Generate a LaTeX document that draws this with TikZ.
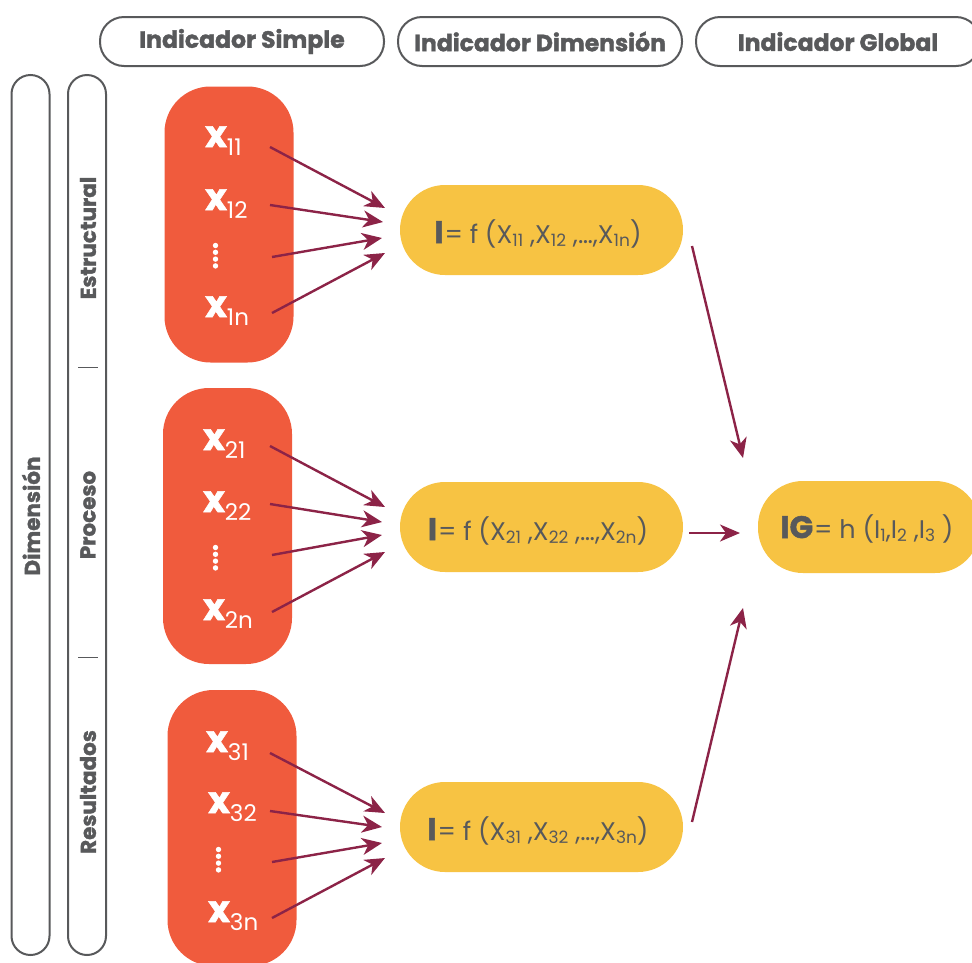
\documentclass[tikz,border=0pt]{standalone}
\usepackage{fontspec}
\setmainfont{Poppins}[BoldFeatures={FakeBold=1.6}]
\usetikzlibrary{arrows.meta}
\definecolor{tgrey}{HTML}{58595B}
\definecolor{orng}{HTML}{F05B3D}
\definecolor{ylw}{HTML}{F7C343}
\definecolor{maroon}{HTML}{8C2347}
\newcommand\xlabtxt[1]{{\fontsize{37}{37}\selectfont\bfseries x}\raisebox{-8pt}{\fontsize{23}{23}\selectfont #1}}
\newcommand\lsub[1]{\raisebox{-3.5pt}{\fontsize{17}{17}\selectfont #1}}
\newcommand\bigI[1]{{\fontsize{31}{31}\selectfont\bfseries #1}}
\begin{document}
\begin{tikzpicture}[x=1pt,y=-1pt,
  hdr/.style={draw=tgrey, line width=2pt, rounded corners=24pt, minimum width=284pt, minimum height=49pt, inner sep=0pt, text=tgrey, font=\fontsize{23.5}{26}\selectfont\bfseries},
  vpill/.style={draw=tgrey, line width=2pt, rounded corners=19pt, minimum width=38pt, minimum height=880pt, inner sep=0pt},
  obox/.style={fill=orng, rounded corners=46pt, minimum width=129pt, minimum height=276pt, inner sep=0pt},
  ypill/.style={fill=ylw, rounded corners=45pt, minimum width=283pt, minimum height=90pt, inner sep=0pt},
  vlab/.style={rotate=90, text=tgrey, font=\fontsize{21.5}{24}\selectfont\bfseries, inner sep=0pt},
  xlab/.style={anchor=base west, text=white, inner sep=0pt},
  fml/.style={anchor=base, text=tgrey, inner sep=0pt, font=\fontsize{25.5}{28}\selectfont},
  arr/.style={draw=maroon, line width=2.4pt, -{Stealth[length=20pt,width=17pt,inset=6pt]}},
  sep/.style={draw=tgrey, line width=0.8pt},
  dotc/.style={fill=white, draw=none}
]
\useasboundingbox (0,0) rectangle (972,962);

% headers
\node[hdr] (h1) at (242,41.5) {Indicador Simple};
\node[hdr] (h2) at (540,41.5) {Indicador Dimensión};
\node[hdr] (h3) at (838,41.5) {Indicador Global};

% vertical pills
\node[vpill] (vp1) at (30.5,515) {};
\node[vpill] (vp2) at (87,515) {};
\node[vlab] (ldim) at (31,516) {Dimensión};
\node[vlab] (lest) at (88,238) {Estructural};
\node[vlab] (lpro) at (88,515) {Proceso};
\node[vlab] (lres) at (88,792) {Resultados};
\coordinate (s1a) at (78,367); \coordinate (s1b) at (98,367);
\coordinate (s2a) at (78,657); \coordinate (s2b) at (98,657);
\draw[sep] (s1a) -- (s1b);
\draw[sep] (s2a) -- (s2b);

% orange boxes
\node[obox] (b1) at (229,224.5) {};
\node[obox] (b2) at (227.5,526) {};
\node[obox] (b3) at (232,828) {};

% x labels
\node[xlab] (x11) at (205,147) {\xlabtxt{11}};
\node[xlab] (x12) at (205,210) {\xlabtxt{12}};
\node[xlab] (x1n) at (205,317) {\xlabtxt{1n}};
\node[xlab] (x21) at (203,450) {\xlabtxt{21}};
\node[xlab] (x22) at (203,512) {\xlabtxt{22}};
\node[xlab] (x2n) at (203,620) {\xlabtxt{2n}};
\node[xlab] (x31) at (206,752) {\xlabtxt{31}};
\node[xlab] (x32) at (208,813) {\xlabtxt{32}};
\node[xlab] (x3n) at (208,922) {\xlabtxt{3n}};

% vertical dots
\foreach \cx/\cy in {215.5/245.5, 215.5/547.5, 218.5/849.5}{
  \foreach \k in {0,1,2,3}{
    \fill[dotc] (\cx,\cy+6.8*\k) circle (2.7);
  }
}

% yellow pills
\node[ypill] (y1) at (541.5,230) {};
\node[ypill] (y2) at (541.5,527) {};
\node[ypill] (y3) at (541.5,827) {};
\node[ypill, minimum width=222pt, minimum height=92pt] (yg) at (869,527) {};

\node[fml] (f1) at (538,243) {\bigI{I}\kern1pt= f (X\lsub{11} ,X\lsub{12} ,…,X\lsub{1n})};
\node[fml] (f2) at (538,540) {\bigI{I}\kern1pt= f (X\lsub{21} ,X\lsub{22} ,…,X\lsub{2n})};
\node[fml] (f3) at (538,840) {\bigI{I}\kern1pt= f (X\lsub{31} ,X\lsub{32} ,…,X\lsub{3n})};
\node[fml] (fg) at (867,538) {\bigI{IG}\kern1pt= h (I\lsub{1},I\lsub{2} ,I\lsub{3} )};

% arrow coordinates box 1
\coordinate (a11s) at (270,147); \coordinate (a11e) at (385,208);
\coordinate (a12s) at (270,205); \coordinate (a12e) at (383,222);
\coordinate (a13s) at (272,257); \coordinate (a13e) at (382,238);
\coordinate (a14s) at (272,313); \coordinate (a14e) at (385,253);
% box 2
\coordinate (a21s) at (270,446); \coordinate (a21e) at (385,507);
\coordinate (a22s) at (270,504); \coordinate (a22e) at (382,522);
\coordinate (a23s) at (272,555); \coordinate (a23e) at (382,535);
\coordinate (a24s) at (272,612); \coordinate (a24e) at (385,552);
% box 3
\coordinate (a31s) at (270,753); \coordinate (a31e) at (385,813);
\coordinate (a32s) at (270,811); \coordinate (a32e) at (382,827);
\coordinate (a33s) at (272,862); \coordinate (a33e) at (382,843);
\coordinate (a34s) at (272,918); \coordinate (a34e) at (385,858);
% right
\coordinate (r1s) at (692,246); \coordinate (r1e) at (743,458);
\coordinate (r2s) at (689,533); \coordinate (r2e) at (740,533);
\coordinate (r3s) at (692,822); \coordinate (r3e) at (743,608);

\foreach \i in {1,2,3}{
  \foreach \j in {1,2,3,4}{
    \draw[arr] (a\i\j s) -- (a\i\j e);
  }
  \draw[arr] (r\i s) -- (r\i e);
}
\end{tikzpicture}
\end{document}
